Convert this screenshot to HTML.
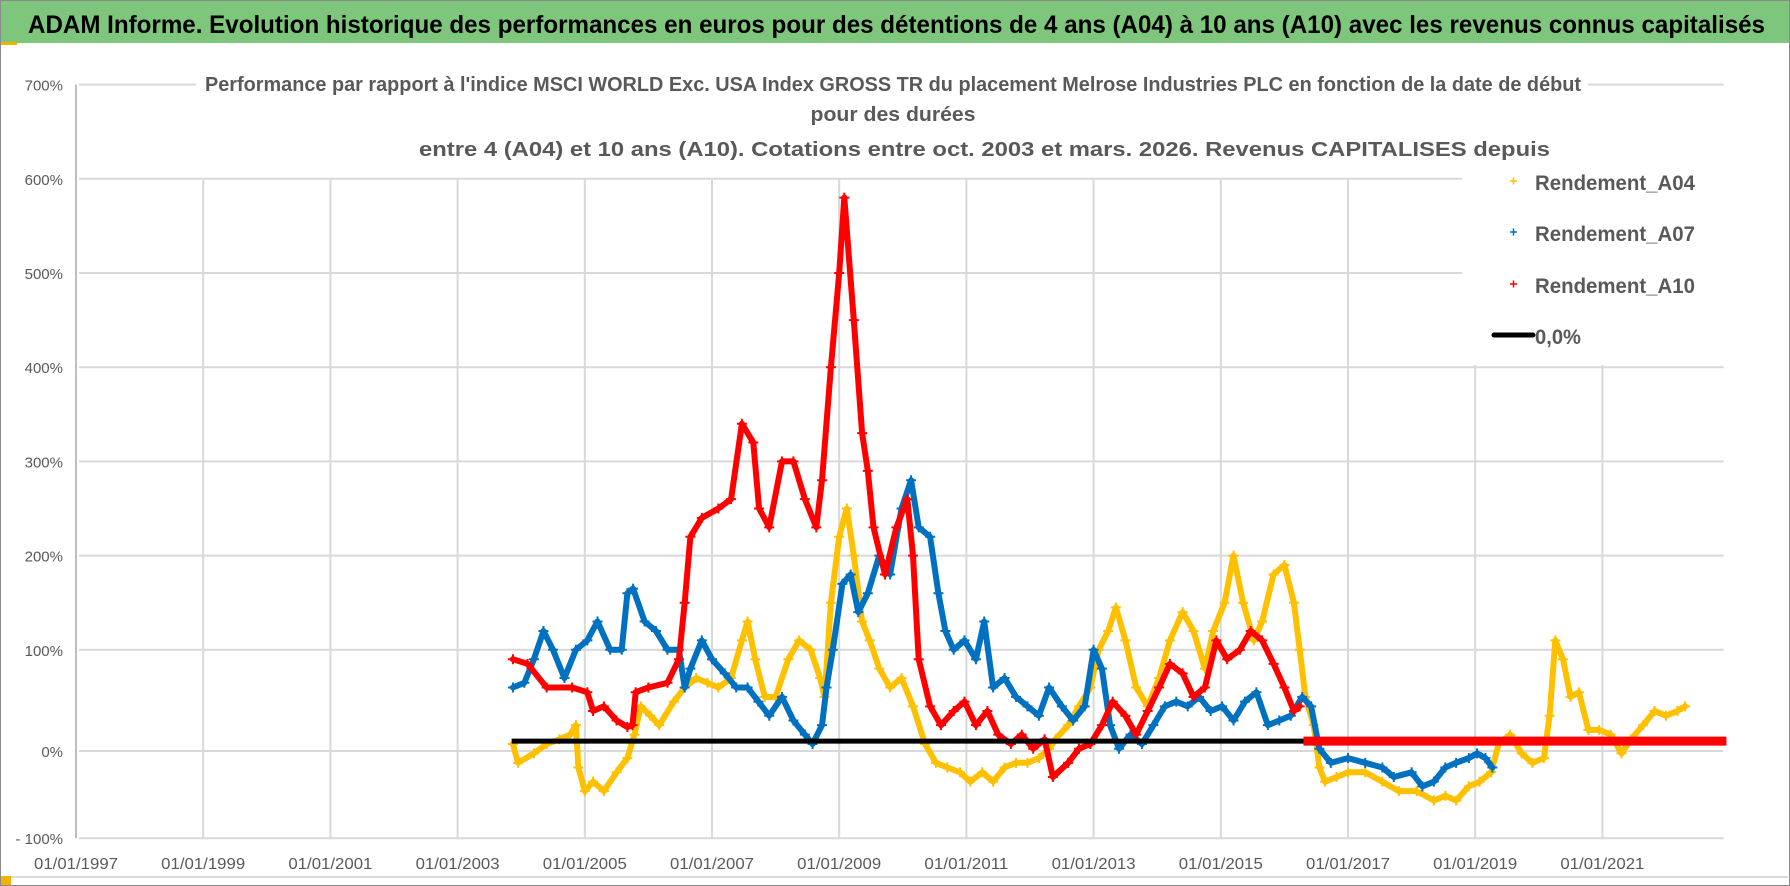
<!DOCTYPE html>
<html><head><meta charset="utf-8">
<style>
html,body{margin:0;padding:0;background:#fff;}
svg{display:block;font-family:"Liberation Sans",sans-serif;}
</style></head>
<body>
<svg id="chart" width="1790" height="886" viewBox="0 0 1790 886" xmlns="http://www.w3.org/2000/svg">
<rect x="0.5" y="0.5" width="1789" height="885" fill="#fff" stroke="#8a8a8a"/>
<rect x="1" y="1" width="1788" height="42" fill="#7dc67b"/>
<rect x="1" y="42" width="16" height="3" fill="#f0b400"/>
<text x="28" y="33" font-size="25" font-weight="bold" fill="#000" textLength="1737" lengthAdjust="spacingAndGlyphs">ADAM Informe. Evolution historique des performances en euros pour des détentions de 4 ans (A04) à 10 ans (A10) avec les revenus connus capitalisés</text>
<g id="grid"></g>
<g id="yaxis"></g>
<g id="xaxis"></g>
<g id="series"></g>
<rect x="196" y="70" width="1392" height="100" fill="#fff"/>
<text x="205" y="91" font-size="20" font-weight="bold" fill="#595959" textLength="1376" lengthAdjust="spacingAndGlyphs">Performance par rapport à l'indice MSCI WORLD Exc. USA Index GROSS TR  du placement Melrose Industries PLC en fonction de la date de début</text>
<text x="893" y="121" font-size="20" font-weight="bold" fill="#595959" text-anchor="middle" textLength="165" lengthAdjust="spacingAndGlyphs">pour des durées</text>
<text x="419" y="156" font-size="20" font-weight="bold" fill="#595959" textLength="1131" lengthAdjust="spacingAndGlyphs">entre 4 (A04) et 10 ans (A10). Cotations entre oct. 2003 et mars. 2026. Revenus CAPITALISES depuis</text>
<g>
<rect x="1462" y="168" width="266" height="197" fill="#fff"/>
<g><path d="M1510 181h7M1513.5 177.5v7" stroke="#ffc000" stroke-width="1.5"/><text x="1535" y="190" font-size="21" font-weight="bold" fill="#595959" textLength="160" lengthAdjust="spacingAndGlyphs">Rendement_A04</text></g>
<g><path d="M1510 232h7M1513.5 228.5v7" stroke="#0070c0" stroke-width="1.5"/><text x="1535" y="241" font-size="21" font-weight="bold" fill="#595959" textLength="160" lengthAdjust="spacingAndGlyphs">Rendement_A07</text></g>
<g><path d="M1510 284h7M1513.5 280.5v7" stroke="#ff0000" stroke-width="1.5"/><text x="1535" y="293" font-size="21" font-weight="bold" fill="#595959" textLength="160" lengthAdjust="spacingAndGlyphs">Rendement_A10</text></g>
<g><line x1="1494" y1="335" x2="1533" y2="335" stroke="#000" stroke-width="5" stroke-linecap="round"/><text x="1535" y="344" font-size="21" font-weight="bold" fill="#595959" textLength="46" lengthAdjust="spacingAndGlyphs">0,0%</text></g>
</g>
<line x1="2" y1="877" x2="1788" y2="877" stroke="#d9d9d9" stroke-width="2"/>
<rect x="1" y="876" width="10" height="9" fill="#f0b400"/>
</svg>
<script>
const yTicks = [700,600,500,400,300,200,100,0,-100];
const yTickLabels = ["700%","600%","500%","400%","300%","200%","100%","0%","- 100%"];
const xTicks = [1997,1999,2001,2003,2005,2007,2009,2011,2013,2015,2017,2019,2021];
const xTickLabels = ["01/01/1997","01/01/1999","01/01/2001","01/01/2003","01/01/2005","01/01/2007","01/01/2009","01/01/2011","01/01/2013","01/01/2015","01/01/2017","01/01/2019","01/01/2021"];
const a04Years = [2003.87,2003.95,2004.2,2004.4,2004.6,2004.77,2004.86,2004.9,2005.0,2005.13,2005.3,2005.5,2005.67,2005.78,2005.88,2006.03,2006.17,2006.4,2006.57,2006.75,2006.93,2007.1,2007.3,2007.47,2007.56,2007.68,2007.83,2008.0,2008.2,2008.37,2008.55,2008.7,2008.77,2008.87,2009.0,2009.12,2009.23,2009.36,2009.48,2009.63,2009.8,2009.98,2010.16,2010.35,2010.52,2010.7,2010.9,2011.06,2011.25,2011.42,2011.6,2011.78,2011.96,2012.14,2012.3,2012.4,2012.6,2012.77,2012.95,2013.08,2013.23,2013.35,2013.5,2013.67,2013.85,2014.03,2014.2,2014.4,2014.57,2014.75,2014.88,2015.06,2015.2,2015.35,2015.52,2015.65,2015.83,2016.0,2016.15,2016.24,2016.33,2016.46,2016.55,2016.64,2016.82,2017.0,2017.27,2017.54,2017.8,2018.08,2018.35,2018.53,2018.7,2018.9,2019.07,2019.25,2019.37,2019.55,2019.73,2019.9,2020.08,2020.17,2020.26,2020.38,2020.5,2020.63,2020.78,2020.95,2021.13,2021.3,2021.45,2021.64,2021.82,2022.0,2022.18,2022.3];
const a04Values = [0,-20,-10,0,5,10,20,-25,-50,-40,-50,-30,-15,10,40,30,20,45,60,70,65,60,70,110,130,90,50,50,90,110,100,70,50,150,220,250,200,130,110,80,60,70,40,0,-20,-25,-30,-40,-30,-40,-25,-20,-20,-15,-5,5,20,40,60,100,120,145,110,60,40,70,110,140,120,80,120,150,200,150,110,130,180,190,150,100,50,20,-25,-40,-35,-30,-30,-40,-50,-50,-60,-55,-60,-45,-40,-30,0,10,-10,-20,-15,30,110,90,50,55,15,15,10,-10,5,20,35,30,35,40];
const a07Years = [2003.87,2004.05,2004.2,2004.35,2004.5,2004.68,2004.86,2005.04,2005.2,2005.4,2005.58,2005.67,2005.76,2005.94,2006.12,2006.3,2006.48,2006.57,2006.66,2006.84,2007.0,2007.2,2007.38,2007.56,2007.73,2007.9,2008.1,2008.28,2008.46,2008.58,2008.73,2008.8,2008.9,2009.05,2009.18,2009.3,2009.45,2009.63,2009.8,2009.98,2010.13,2010.25,2010.43,2010.56,2010.67,2010.8,2010.97,2011.15,2011.28,2011.42,2011.6,2011.78,2011.96,2012.14,2012.3,2012.5,2012.68,2012.86,2013.0,2013.13,2013.26,2013.4,2013.58,2013.76,2013.94,2014.12,2014.3,2014.48,2014.66,2014.84,2015.02,2015.2,2015.38,2015.56,2015.74,2015.92,2016.1,2016.28,2016.42,2016.55,2016.73,2017.0,2017.27,2017.54,2017.72,2018.0,2018.17,2018.35,2018.53,2018.7,2018.9,2019.03,2019.16,2019.27];
const a07Values = [60,65,90,120,100,70,100,110,130,100,100,160,165,130,120,100,100,60,80,110,90,75,60,60,45,30,50,25,10,0,20,60,100,170,180,140,160,200,180,250,280,230,220,160,120,100,110,90,130,60,70,50,40,30,60,40,25,40,100,80,20,-5,10,0,20,40,45,40,50,35,40,25,45,55,20,25,30,50,40,-5,-20,-15,-20,-25,-35,-30,-45,-40,-25,-20,-15,-10,-15,-25];
const a10Years = [2003.87,2004.1,2004.4,2004.8,2005.04,2005.13,2005.3,2005.5,2005.67,2005.75,2005.8,2006.0,2006.3,2006.48,2006.57,2006.66,2006.84,2007.1,2007.3,2007.47,2007.65,2007.74,2007.9,2008.1,2008.28,2008.46,2008.64,2008.73,2008.87,2009.0,2009.08,2009.23,2009.36,2009.45,2009.54,2009.72,2009.9,2010.07,2010.16,2010.25,2010.43,2010.6,2010.8,2010.97,2011.15,2011.33,2011.5,2011.7,2011.87,2012.05,2012.23,2012.36,2012.6,2012.77,2012.95,2013.13,2013.3,2013.5,2013.67,2013.85,2014.03,2014.2,2014.4,2014.57,2014.75,2014.93,2015.1,2015.3,2015.47,2015.65,2015.83,2016.0,2016.15,2016.24];
const a10Values = [90,85,60,60,55,35,40,25,18,20,55,60,65,90,150,220,240,250,260,340,320,250,230,300,300,260,230,280,400,500,580,450,330,290,230,180,230,260,200,90,40,20,35,45,20,35,10,0,10,-5,5,-35,-20,-5,0,20,45,30,10,35,60,85,75,50,60,110,90,100,120,110,85,60,35,40];
const a10ZeroYears = [2016.3,2022.95];
const a10ZeroValues = [3,3];
const zeroLineYears = [2003.85,2016.3];
const zeroLineValues = [3,3];

const NS = "http://www.w3.org/2000/svg";
function xScale(yr){ return 76 + (yr - 1997) * 63.6; }
function yScale(v){ return 744 - v * 94.2 / 100; }
function mk(tag, attrs, parent){ const e = document.createElementNS(NS, tag); for (const k in attrs) e.setAttribute(k, attrs[k]); parent.appendChild(e); return e; }

const grid = document.getElementById('grid');
const yaxis = document.getElementById('yaxis');
const xaxis = document.getElementById('xaxis');
const series = document.getElementById('series');
const right = xScale(2023) - 6;

yTicks.forEach((v, i) => {
  const yy = yScale(v) + (v === 0 ? 7 : 0);
  const l = mk('line', {x1: 79, x2: right, y1: yy, y2: yy, stroke: '#d9d9d9', 'stroke-width': 2}, grid);
  
  
  const t = mk('text', {x: 63, y: yy + 6, 'font-size': 15, fill: '#595959', 'text-anchor': 'end'}, yaxis);
  t.textContent = yTickLabels[i];
  
  
});
xTicks.forEach((yr, i) => {
  const xx = xScale(yr);
  const l = mk('line', {x1: xx, x2: xx, y1: i === 0 ? yScale(700) : yScale(600), y2: yScale(-100), stroke: i === 0 ? '#bfbfbf' : '#d9d9d9', 'stroke-width': 2}, grid);
  
  
  const t = mk('text', {x: xx, y: 869, 'font-size': 16, fill: '#595959', 'text-anchor': 'middle', textLength: 84, lengthAdjust: 'spacingAndGlyphs'}, xaxis);
  t.textContent = xTickLabels[i];
  
  
});

function drawSeries(years, vals, color, name){
  const g = mk('g', {}, series);
  
  
  const pts = years.map((yr, i) => xScale(yr).toFixed(1) + ',' + yScale(vals[i]).toFixed(1)).join(' ');
  const pl = mk('polyline', {points: pts, fill: 'none', stroke: color, 'stroke-width': 6, 'stroke-linejoin': 'round', 'stroke-linecap': 'round'}, g);
  
  
  years.forEach((yr, i) => {
    const x = xScale(yr), y = yScale(vals[i]);
    const p = mk('path', {d: `M${x-5} ${y}h10M${x} ${y-5}v10`, stroke: color, 'stroke-width': 2}, g);
    
    
  });
}
drawSeries(a04Years, a04Values, '#ffc000', 'series-a04');
drawSeries(a07Years, a07Values, '#0070c0', 'series-a07');
drawSeries(a10Years, a10Values, '#ff0000', 'series-a10');

const zl = mk('line', {x1: xScale(zeroLineYears[0]), x2: xScale(zeroLineYears[1]), y1: yScale(zeroLineValues[0]), y2: yScale(zeroLineValues[1]), stroke: '#000', 'stroke-width': 5}, series);


const rz = mk('line', {x1: xScale(a10ZeroYears[0]), x2: xScale(a10ZeroYears[1]), y1: yScale(a10ZeroValues[0]), y2: yScale(a10ZeroValues[1]), stroke: '#ff0000', 'stroke-width': 9}, series);


</script>
</body></html>
